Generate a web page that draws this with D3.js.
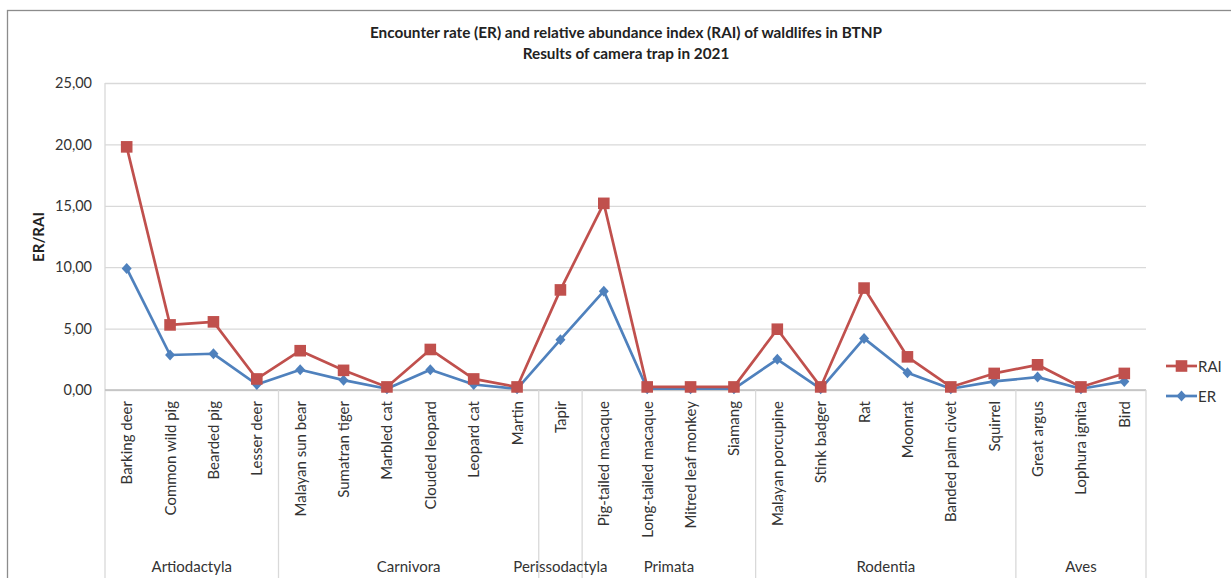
<!DOCTYPE html>
<html>
<head>
<meta charset="utf-8">
<script src="https://cdn.jsdelivr.net/npm/d3@7"></script>
<style>
  html, body { margin: 0; padding: 0; background: #fff; }
  svg { display: block; font-family: Lato, "Open Sans", sans-serif; }
</style>
</head>
<body>
<svg id="chart" width="1231" height="578"></svg>
<script>
// Species observed by camera traps, grouped by order
const categories = [
  "Barking deer", "Common wild pig", "Bearded pig", "Lesser deer",
  "Malayan sun bear", "Sumatran tiger", "Marbled cat", "Clouded leopard", "Leopard cat", "Martin",
  "Tapir",
  "Pig-tailed macaque", "Long-tailed macaque", "Mitred leaf monkey", "Siamang",
  "Malayan porcupine", "Stink badger", "Rat", "Moonrat", "Banded palm civet", "Squirrel",
  "Great argus", "Lophura ignita", "Bird"
];
const groupNames = ["Artiodactyla", "Carnivora", "Perissodactyla", "Primata", "Rodentia", "Aves"];
const groupSizes = [4, 6, 1, 4, 6, 3];

// Relative abundance index and encounter rate per species
const raiValues = [19.8, 5.3, 5.55, 0.9, 3.2, 1.6, 0.25, 3.3, 0.9, 0.25, 8.15,
  15.2, 0.25, 0.25, 0.25, 4.95, 0.25, 8.3, 2.7, 0.25, 1.35, 2.05, 0.25, 1.35];
const erValues = [9.9, 2.85, 2.95, 0.45, 1.65, 0.8, 0.1, 1.65, 0.45, 0.1, 4.1,
  8.05, 0.1, 0.1, 0.1, 2.5, 0.1, 4.2, 1.4, 0.1, 0.7, 1.05, 0.1, 0.7];

const yTicks = [0, 5, 10, 15, 20, 25];

const svg = d3.select("#chart");
const plotLeft = 105, plotRight = 1146, plotTop = 83, plotBottom = 390;
const labelSize = 15;

const x = d3.scaleBand().domain(categories).range([plotLeft, plotRight]);
const y = d3.scaleLinear().domain([0, 25]).range([plotBottom, plotTop]);
const fmt = v => d3.format(".2f")(v).replace(".", ",");

// Outer chart frame
svg.append("rect")
  .attr("x", 7.5).attr("y", 10.5).attr("width", 1240).attr("height", 600)
  .attr("fill", "none").attr("stroke", "#8c8c8c").attr("stroke-width", 1.3);

// Title
const title = svg.append("text")
  .attr("text-anchor", "middle").attr("font-weight", "bold").attr("font-size", 15.3)
  .attr("fill", "#222");
title.append("tspan").attr("x", 626).attr("y", 38)
  .text("Encounter rate (ER) and relative abundance index (RAI) of waldlifes in BTNP");
title.append("tspan").attr("x", 626).attr("y", 59)
  .text("Results of camera trap in 2021");

// Horizontal gridlines and y axis
const yAxis = d3.axisLeft(y).tickValues(yTicks).tickFormat(fmt)
  .tickSize(-(plotRight - plotLeft)).tickPadding(13);
const yG = svg.append("g").attr("transform", `translate(${plotLeft},0)`).call(yAxis);
yG.select(".domain").remove();
yG.selectAll(".tick line").attr("stroke", "#d9d9d9").attr("stroke-width", 1.3);
yG.selectAll(".tick text").attr("font-size", 14.5).attr("fill", "#333")
  .attr("font-family", "Lato, sans-serif");

// Left plot edge
svg.append("line")
  .attr("x1", plotLeft).attr("x2", plotLeft).attr("y1", plotTop).attr("y2", 578)
  .attr("stroke", "#d9d9d9").attr("stroke-width", 1.3);

// Category axis line
svg.append("line")
  .attr("x1", plotLeft).attr("x2", plotRight).attr("y1", plotBottom).attr("y2", plotBottom)
  .attr("stroke", "#bfbfbf").attr("stroke-width", 1.3);

// Group dividers and group names
let start = 0;
groupSizes.forEach((n, i) => {
  const x0 = x(categories[start]);
  const x1 = x(categories[start + n - 1]) + x.bandwidth();
  svg.append("line")
    .attr("x1", x1).attr("x2", x1).attr("y1", plotBottom).attr("y2", 578)
    .attr("stroke", "#d9d9d9").attr("stroke-width", 1.3);
  svg.append("text")
    .attr("x", (x0 + x1) / 2).attr("y", 572)
    .attr("text-anchor", "middle").attr("font-size", labelSize).attr("fill", "#333")
    .text(groupNames[i]);
  start += n;
});

// Rotated species labels
svg.append("g").selectAll("text").data(categories).join("text")
  .attr("transform", d => `translate(${x(d) + x.bandwidth() / 2 + 5.5},401) rotate(-90)`)
  .attr("text-anchor", "end").attr("font-size", labelSize).attr("fill", "#333")
  .text(d => d);

// Y axis title
svg.append("text")
  .attr("transform", "translate(44,237) rotate(-90)")
  .attr("text-anchor", "middle").attr("font-weight", "bold").attr("font-size", 15)
  .attr("fill", "#222").text("ER/RAI");

const cx = d => x(d) + x.bandwidth() / 2;
const raiColor = "#C0504D", erColor = "#4F81BD";

function drawSeries(values, color, marker) {
  const pts = categories.map((c, i) => [cx(c), y(values[i])]);
  svg.append("path").datum(pts)
    .attr("d", d3.line())
    .attr("fill", "none").attr("stroke", color).attr("stroke-width", 2.7)
    .attr("stroke-linejoin", "round");
  svg.append("g").selectAll("path").data(pts).join("path")
    .attr("transform", d => `translate(${d[0]},${d[1]})`)
    .attr("d", marker)
    .attr("fill", color);
}

const squarePath = "M-5.8,-5.8H5.8V5.8H-5.8Z";
const diamondPath = "M0,-5.5L5,0L0,5.5L-5,0Z";

drawSeries(erValues, erColor, diamondPath);
drawSeries(raiValues, raiColor, squarePath);

// Legend
const legend = [
  { name: "RAI", color: raiColor, marker: squarePath, y: 366 },
  { name: "ER", color: erColor, marker: diamondPath, y: 396 }
];
legend.forEach(l => {
  svg.append("line").attr("x1", 1166).attr("x2", 1197).attr("y1", l.y).attr("y2", l.y)
    .attr("stroke", l.color).attr("stroke-width", 2.7);
  svg.append("path").attr("transform", `translate(1181.5,${l.y})`).attr("d", l.marker)
    .attr("fill", l.color);
  svg.append("text").attr("x", 1198).attr("y", l.y + 5.5)
    .attr("font-size", 15).attr("fill", "#333").text(l.name);
});
</script>
</body>
</html>
